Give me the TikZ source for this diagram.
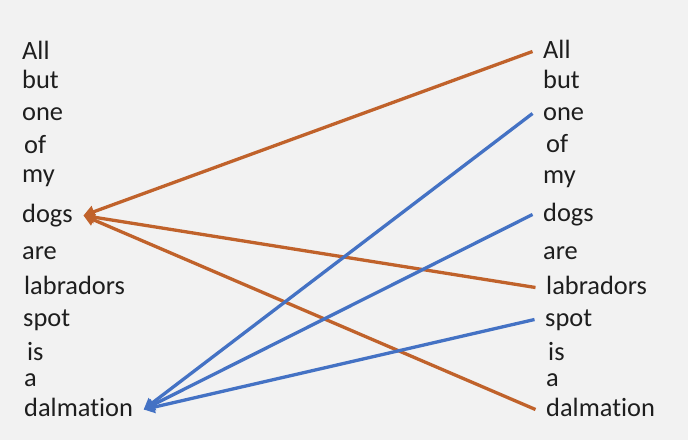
\documentclass[tikz,border=0pt]{standalone}
\usepackage{fontspec}
\setmainfont[Ligatures={NoCommon}]{Carlito}
\usetikzlibrary{arrows.meta}
\definecolor{bg}{HTML}{F2F2F2}
\definecolor{txt}{HTML}{1E1E1E}
\definecolor{orng}{HTML}{C0622B}
\definecolor{blu}{HTML}{4472C4}
\begin{document}
\begin{tikzpicture}[x=1pt,y=-1pt,
  word/.style={anchor=base west,text=txt,inner xsep=10.5pt,inner ysep=0pt,
    text height=13pt,text depth=-13pt,font=\fontsize{26.4}{30}\selectfont},
  link/.style={line width=3.3pt,-{Triangle[length=11pt,width=12pt]}},
  og/.style={link,draw=orng},
  bl/.style={link,draw=blu}]
\fill[bg] (0,0) rectangle (688,440);
\useasboundingbox (0,0) rectangle (688,440);
% left column
\node[word] (lall) at (11.5,59) {All};
\node[word] (lbut) at (11.5,88) {but};
\node[word] (lone) at (11.5,120) {one};
\node[word] (lof) at (13.5,153) {of};
\node[word] (lmy) at (11.5,182) {my};
\node[word] (ldogs) at (11.5,222) {dogs};
\node[word] (lare) at (11.5,259) {are};
\node[word] (llab) at (13.5,294) {labradors};
\node[word] (lspot) at (12.5,326) {spot};
\node[word] (lis) at (16.5,360) {is};
\node[word] (la) at (13.5,386) {a};
\node[word] (ldal) at (13.5,416) {dalmation};
% right column
\node[word] (rall) at (532.5,58) {All};
\node[word] (rbut) at (532.5,88) {but};
\node[word] (rone) at (532.5,120) {one};
\node[word] (rof) at (535.5,152) {of};
\node[word] (rmy) at (532.5,183) {my};
\node[word] (rdogs) at (532.5,221) {dogs};
\node[word] (rare) at (532.5,259) {are};
\node[word] (rlab) at (535.5,294) {labradors};
\node[word] (rspot) at (534.5,326) {spot};
\node[word] (ris) at (537.5,360) {is};
\node[word] (ra) at (535.5,386) {a};
\node[word] (rdal) at (535.5,416) {dalmation};
% connectors
\draw[og] (rall.west) -- (ldogs.east);
\draw[og] (rlab.west) -- (ldogs.east);
\draw[og] (rdal.west) -- (ldogs.east);
\draw[bl] (rone.west) -- (ldal.east);
\draw[bl] (rdogs.west) -- (ldal.east);
\draw[bl] (rspot.west) -- (ldal.east);
\end{tikzpicture}
\end{document}
